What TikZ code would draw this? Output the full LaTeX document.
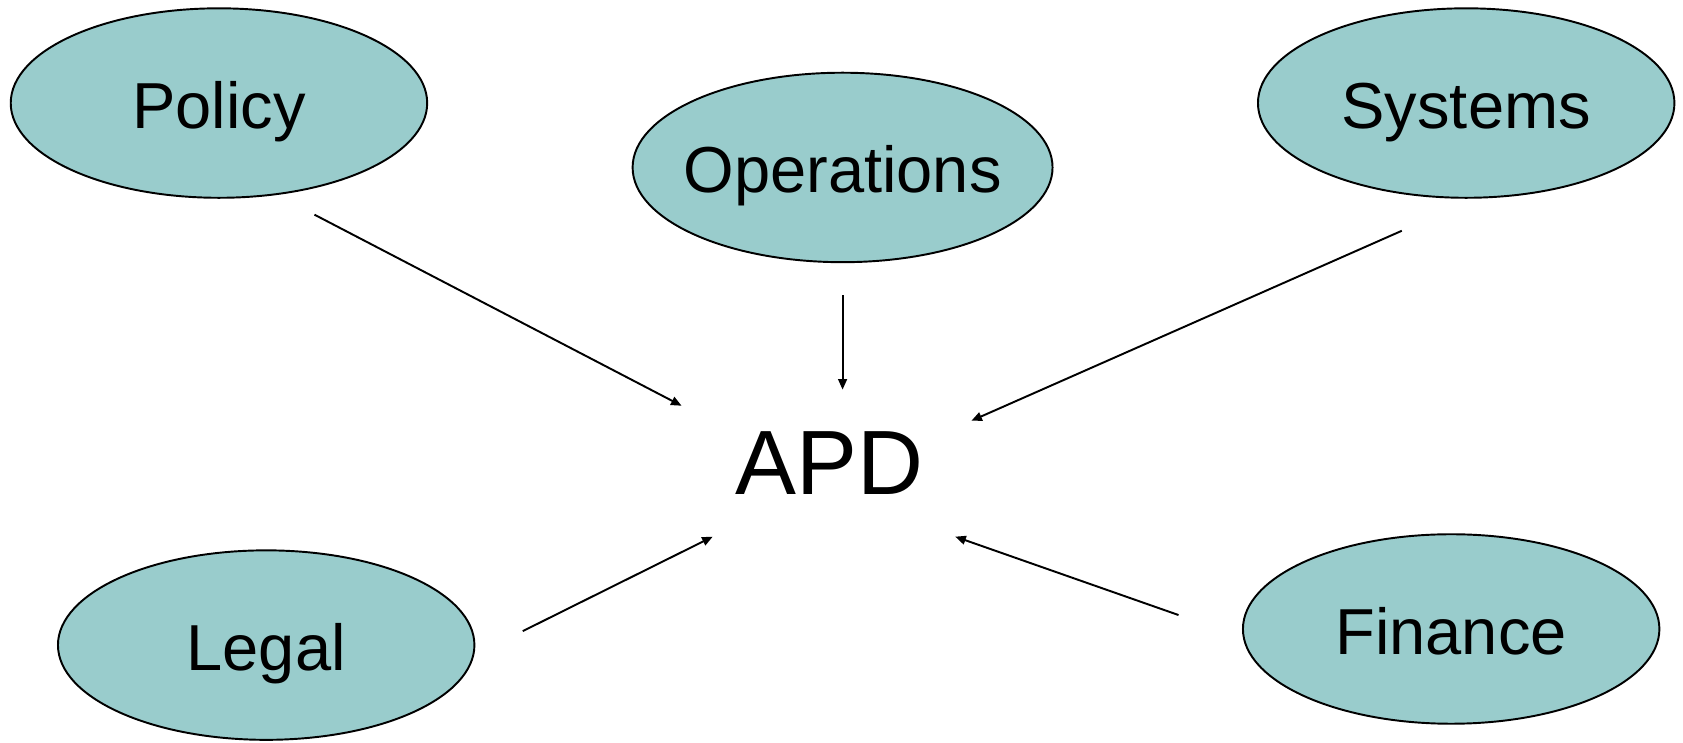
\documentclass[tikz,border=0pt]{standalone}
\usepackage{fontspec}
\setmainfont{Liberation Sans}
\usetikzlibrary{shapes.geometric,arrows.meta}
\definecolor{teal}{HTML}{99CCCC}
\begin{document}
\begin{tikzpicture}[x=0.021466cm,y=-0.021466cm] % APD diagram
\tikzstyle{unit} = [ellipse, draw, line width=1.1pt, fill=teal, minimum width=8.33cm, minimum height=3.79cm, inner xsep=-6pt, text height=29pt, text depth=0pt, font=\fontsize{37}{40}\selectfont] % office ellipse style
\tikzstyle{centre} = [font=\fontsize{52}{56}\selectfont] % central label style
\tikzstyle{feed} = [-{Triangle[length=6pt,width=5pt]}, line width=1.1pt] % arrow style
\useasboundingbox (0,0) rectangle (1568,691.3);
%
\node[unit] (policy) at (204,96) {Policy};
\node[unit] (operations) at (785,156) {Operations};
\node[unit] (systems) at (1366,96) {Systems};
\node[unit] (legal) at (248,601) {Legal};
\node[unit] (finance) at (1352,586) {Finance};
\node[centre] (apd) at (773,431) {APD};
% arrow ends
\coordinate (p1) at (293,200); \coordinate (p2) at (635,378);
\coordinate (o1) at (785,275); \coordinate (o2) at (785,363);
\coordinate (s1) at (1306,215); \coordinate (s2) at (905,392);
\coordinate (l1) at (487,588); \coordinate (l2) at (664,500);
\coordinate (f1) at (1098,573); \coordinate (f2) at (890,500);
\draw[feed] (p1) -- (p2);
\draw[feed] (o1) -- (o2);
\draw[feed] (s1) -- (s2);
\draw[feed] (l1) -- (l2);
\draw[feed] (f1) -- (f2);
\end{tikzpicture}
\end{document}
